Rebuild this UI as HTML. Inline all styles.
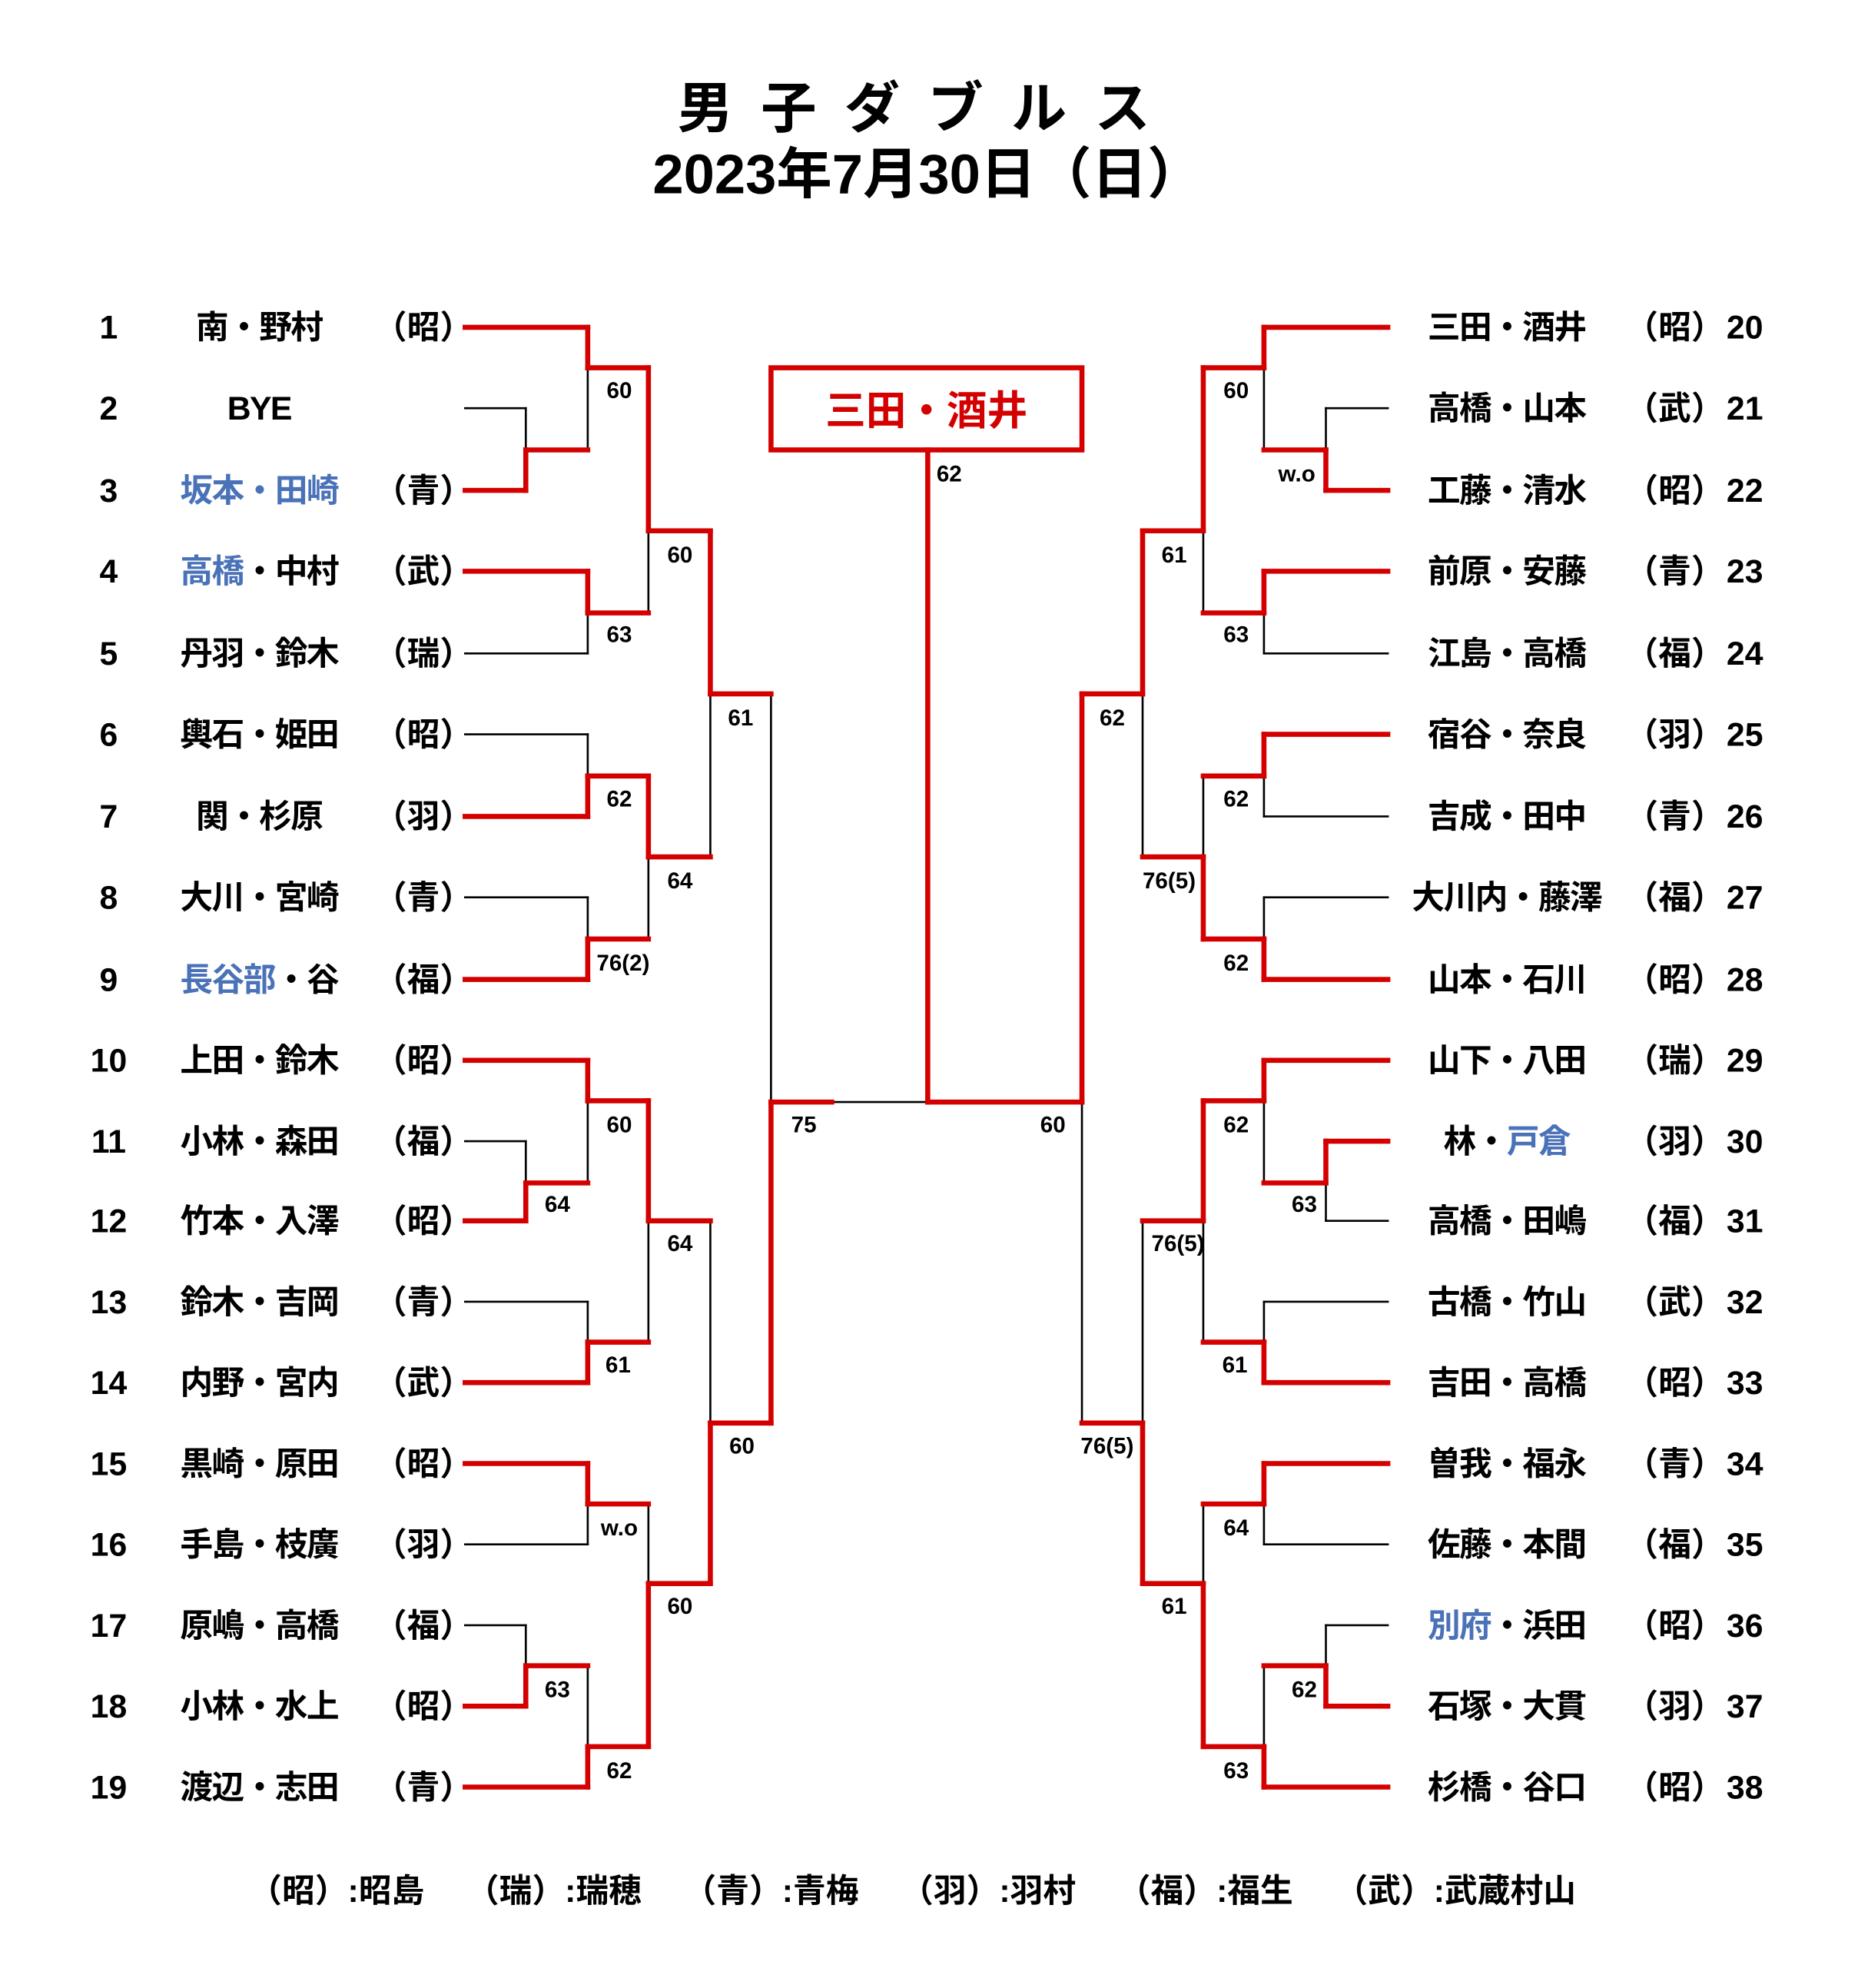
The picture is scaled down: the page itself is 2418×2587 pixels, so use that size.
<!DOCTYPE html>
<html><head><meta charset="utf-8">
<style>
html,body{margin:0;padding:0;background:#fff;}
svg{display:block;}
text{font-family:"Liberation Sans","Noto Sans CJK JP",sans-serif;fill:#000;}
.n{font-size:26px;font-weight:bold;}
.nm{letter-spacing:-1px;}
.s{font-size:18px;font-weight:bold;}
.b{fill:#4a72b8;}
</style></head><body>
<svg id="g" width="2418" height="2587" viewBox="0 0 1470 1573" preserveAspectRatio="none" xmlns="http://www.w3.org/2000/svg">
<rect width="1470" height="1573" fill="#fff"/>
<text x="734" y="101" text-anchor="middle" style="font-size:44px;font-weight:bold;letter-spacing:22px">男子ダブルス</text>
<text x="734" y="153" text-anchor="middle" style="font-size:44px;font-weight:bold">2023年7月30日（日）</text>
<g id="lines"></g>
<rect x="610" y="291" width="246" height="65" fill="none" stroke="#d40000" stroke-width="4"/>
<text x="733" y="336" text-anchor="middle" style="font-size:32px;font-weight:bold;fill:#d40000">三田・酒井</text>
<text x="751" y="381" text-anchor="middle" class="s">62</text>

<g class="n">
<g text-anchor="middle">
<text x="86" y="268">1</text><text x="86" y="332">2</text><text x="86" y="397">3</text><text x="86" y="461">4</text><text x="86" y="526">5</text>
<text x="86" y="590">6</text><text x="86" y="655">7</text><text x="86" y="719">8</text><text x="86" y="784">9</text><text x="86" y="848">10</text>
<text x="86" y="912">11</text><text x="86" y="975">12</text><text x="86" y="1039">13</text><text x="86" y="1103">14</text><text x="86" y="1167">15</text>
<text x="86" y="1231">16</text><text x="86" y="1295">17</text><text x="86" y="1359">18</text><text x="86" y="1423">19</text>
</g>
<g text-anchor="middle" class="nm">
<text x="205" y="268">南・野村</text>
<text x="205" y="332">BYE</text>
<text x="205" y="397" class="b">坂本・田崎</text>
<text x="205" y="461"><tspan class="b">高橋</tspan>・中村</text>
<text x="205" y="526">丹羽・鈴木</text>
<text x="205" y="590">輿石・姫田</text>
<text x="205" y="655">関・杉原</text>
<text x="205" y="719">大川・宮崎</text>
<text x="205" y="784"><tspan class="b">長谷部</tspan>・谷</text>
<text x="205" y="848">上田・鈴木</text>
<text x="205" y="912">小林・森田</text>
<text x="205" y="975">竹本・入澤</text>
<text x="205" y="1039">鈴木・吉岡</text>
<text x="205" y="1103">内野・宮内</text>
<text x="205" y="1167">黒崎・原田</text>
<text x="205" y="1231">手島・枝廣</text>
<text x="205" y="1295">原嶋・高橋</text>
<text x="205" y="1359">小林・水上</text>
<text x="205" y="1423">渡辺・志田</text>
<text x="1192" y="268">三田・酒井</text>
<text x="1192" y="332">高橋・山本</text>
<text x="1192" y="397">工藤・清水</text>
<text x="1192" y="461">前原・安藤</text>
<text x="1192" y="526">江島・高橋</text>
<text x="1192" y="590">宿谷・奈良</text>
<text x="1192" y="655">吉成・田中</text>
<text x="1192" y="719">大川内・藤澤</text>
<text x="1192" y="784">山本・石川</text>
<text x="1192" y="848">山下・八田</text>
<text x="1192" y="912">林・<tspan class="b">戸倉</tspan></text>
<text x="1192" y="975">高橋・田嶋</text>
<text x="1192" y="1039">古橋・竹山</text>
<text x="1192" y="1103">吉田・高橋</text>
<text x="1192" y="1167">曽我・福永</text>
<text x="1192" y="1231">佐藤・本間</text>
<text x="1192" y="1295"><tspan class="b">別府</tspan>・浜田</text>
<text x="1192" y="1359">石塚・大貫</text>
<text x="1192" y="1423">杉橋・谷口</text>
</g>
<g text-anchor="middle">
<text x="335" y="268">（昭）</text><text x="335" y="397">（青）</text><text x="335" y="461">（武）</text><text x="335" y="526">（瑞）</text>
<text x="335" y="590">（昭）</text><text x="335" y="655">（羽）</text><text x="335" y="719">（青）</text><text x="335" y="784">（福）</text>
<text x="335" y="848">（昭）</text><text x="335" y="912">（福）</text><text x="335" y="975">（昭）</text><text x="335" y="1039">（青）</text>
<text x="335" y="1103">（武）</text><text x="335" y="1167">（昭）</text><text x="335" y="1231">（羽）</text><text x="335" y="1295">（福）</text>
<text x="335" y="1359">（昭）</text><text x="335" y="1423">（青）</text>
<text x="1325" y="268">（昭）</text><text x="1325" y="332">（武）</text><text x="1325" y="397">（昭）</text><text x="1325" y="461">（青）</text>
<text x="1325" y="526">（福）</text><text x="1325" y="590">（羽）</text><text x="1325" y="655">（青）</text><text x="1325" y="719">（福）</text>
<text x="1325" y="784">（昭）</text><text x="1325" y="848">（瑞）</text><text x="1325" y="912">（羽）</text><text x="1325" y="975">（福）</text>
<text x="1325" y="1039">（武）</text><text x="1325" y="1103">（昭）</text><text x="1325" y="1167">（青）</text><text x="1325" y="1231">（福）</text>
<text x="1325" y="1295">（昭）</text><text x="1325" y="1359">（羽）</text><text x="1325" y="1423">（昭）</text>
</g>
<text x="1366" y="268">20</text><text x="1366" y="332">21</text><text x="1366" y="397">22</text><text x="1366" y="461">23</text>
<text x="1366" y="526">24</text><text x="1366" y="590">25</text><text x="1366" y="655">26</text><text x="1366" y="719">27</text>
<text x="1366" y="784">28</text><text x="1366" y="848">29</text><text x="1366" y="912">30</text><text x="1366" y="975">31</text>
<text x="1366" y="1039">32</text><text x="1366" y="1103">33</text><text x="1366" y="1167">34</text><text x="1366" y="1231">35</text>
<text x="1366" y="1295">36</text><text x="1366" y="1359">37</text><text x="1366" y="1423">38</text>
</g>

<g class="s" text-anchor="middle">
<text x="490" y="315">60</text><text x="490" y="508">63</text><text x="490" y="638">62</text><text x="493" y="768">76(2)</text>
<text x="490" y="896">60</text><text x="441" y="959">64</text><text x="489" y="1086">61</text><text x="490" y="1215">w.o</text>
<text x="441" y="1343">63</text><text x="490" y="1407">62</text><text x="538" y="445">60</text><text x="538" y="703">64</text>
<text x="538" y="990">64</text><text x="538" y="1277">60</text><text x="586" y="574">61</text><text x="587" y="1150">60</text><text x="636" y="896">75</text>

<text x="1026" y="381">w.o</text><text x="978" y="315">60</text><text x="978" y="508">63</text><text x="978" y="638">62</text>
<text x="978" y="768">62</text><text x="929" y="445">61</text><text x="925" y="703">76(5)</text><text x="880" y="574">62</text>
<text x="978" y="896">62</text><text x="1032" y="959">63</text><text x="932" y="990">76(5)</text><text x="977" y="1086">61</text>
<text x="978" y="1215">64</text><text x="1032" y="1343">62</text><text x="978" y="1407">63</text><text x="929" y="1277">61</text>
<text x="876" y="1150">76(5)</text><text x="833" y="896">60</text>
</g>

<text x="722" y="1505" text-anchor="middle" style="font-size:26px;font-weight:bold" xml:space="preserve">（昭）:昭島　 （瑞）:瑞穂　 （青）:青梅　 （羽）:羽村　 （福）:福生　 （武）:武蔵村山</text>
</svg>
<script>
(function(){
var g=document.getElementById('lines'),ns='http://www.w3.org/2000/svg',blk=[],red=[];
function L(x1,y1,x2,y2,r){(r?red:blk).push([x1,y1,x2,y2]);}
var rows=[259,323,388,452,517,581,646,710,775,839,903,966,1030,1094,1158,1222,1286,1350,1414];
var lx=[465,416,416,465,465,465,465,465,465,465,416,416,465,465,465,465,416,416,465];
var lr=[1,0,1,1,0,0,1,0,1,1,0,1,0,1,1,0,0,1,1];
var rx=[1000,1049,1049,1000,1000,1000,1000,1000,1000,1000,1049,1049,1000,1000,1000,1000,1049,1049,1000];
var rr=[1,0,1,1,0,1,0,0,1,1,1,0,0,1,1,0,0,1,1];
for(var i=0;i<19;i++){L(368,rows[i],lx[i],rows[i],lr[i]);L(1098,rows[i],rx[i],rows[i],rr[i]);}
var M=[
[416,323,388,356,0,465],[465,259,356,291,1,513],[465,452,517,485,1,513],[465,581,646,614,0,513],[465,710,775,743,0,513],
[416,903,966,936,0,465],[465,839,936,871,1,513],[465,1030,1094,1062,0,513],[465,1158,1222,1190,1,513],[416,1286,1350,1318,0,465],
[465,1318,1414,1382,0,513],[513,291,485,420,1,562],[513,614,743,678,1,562],[513,871,1062,966,1,562],[513,1190,1382,1253,0,562],
[562,420,678,549,1,610],[562,966,1253,1126,0,610],[610,549,1126,872,0,658],
[1049,323,388,356,0,1000],[1000,259,356,291,1,952],[1000,452,517,485,1,952],[1000,581,646,614,1,952],[1000,710,775,743,0,952],
[1000,839,936,871,1,952],[1049,903,966,936,1,1000],[1000,1030,1094,1062,0,952],[1000,1158,1222,1190,1,952],[1049,1286,1350,1318,0,1000],
[1000,1318,1414,1382,0,952],[952,291,485,420,1,904],[952,614,743,678,0,904],[952,871,1062,966,1,904],[952,1190,1382,1253,0,904],
[904,420,678,549,1,856],[904,966,1253,1126,0,856],[856,549,1126,872,1,734]];
M.forEach(function(m){L(m[0],m[1],m[0],m[2],0);L(m[0],m[4]?m[1]:m[2],m[0],m[3],1);L(m[0],m[3],m[5],m[3],1);});
L(658,872,734,872,0);L(734,356,734,872,1);
function draw(a,c,w){a.forEach(function(s){var l=document.createElementNS(ns,'line');l.setAttribute('x1',s[0]);l.setAttribute('y1',s[1]);l.setAttribute('x2',s[2]);l.setAttribute('y2',s[3]);l.setAttribute('stroke',c);l.setAttribute('stroke-width',w);l.setAttribute('stroke-linecap','square');g.appendChild(l);});}
draw(blk,'#000',1.6);draw(red,'#d40000',4);
})();
</script>
</body></html>
